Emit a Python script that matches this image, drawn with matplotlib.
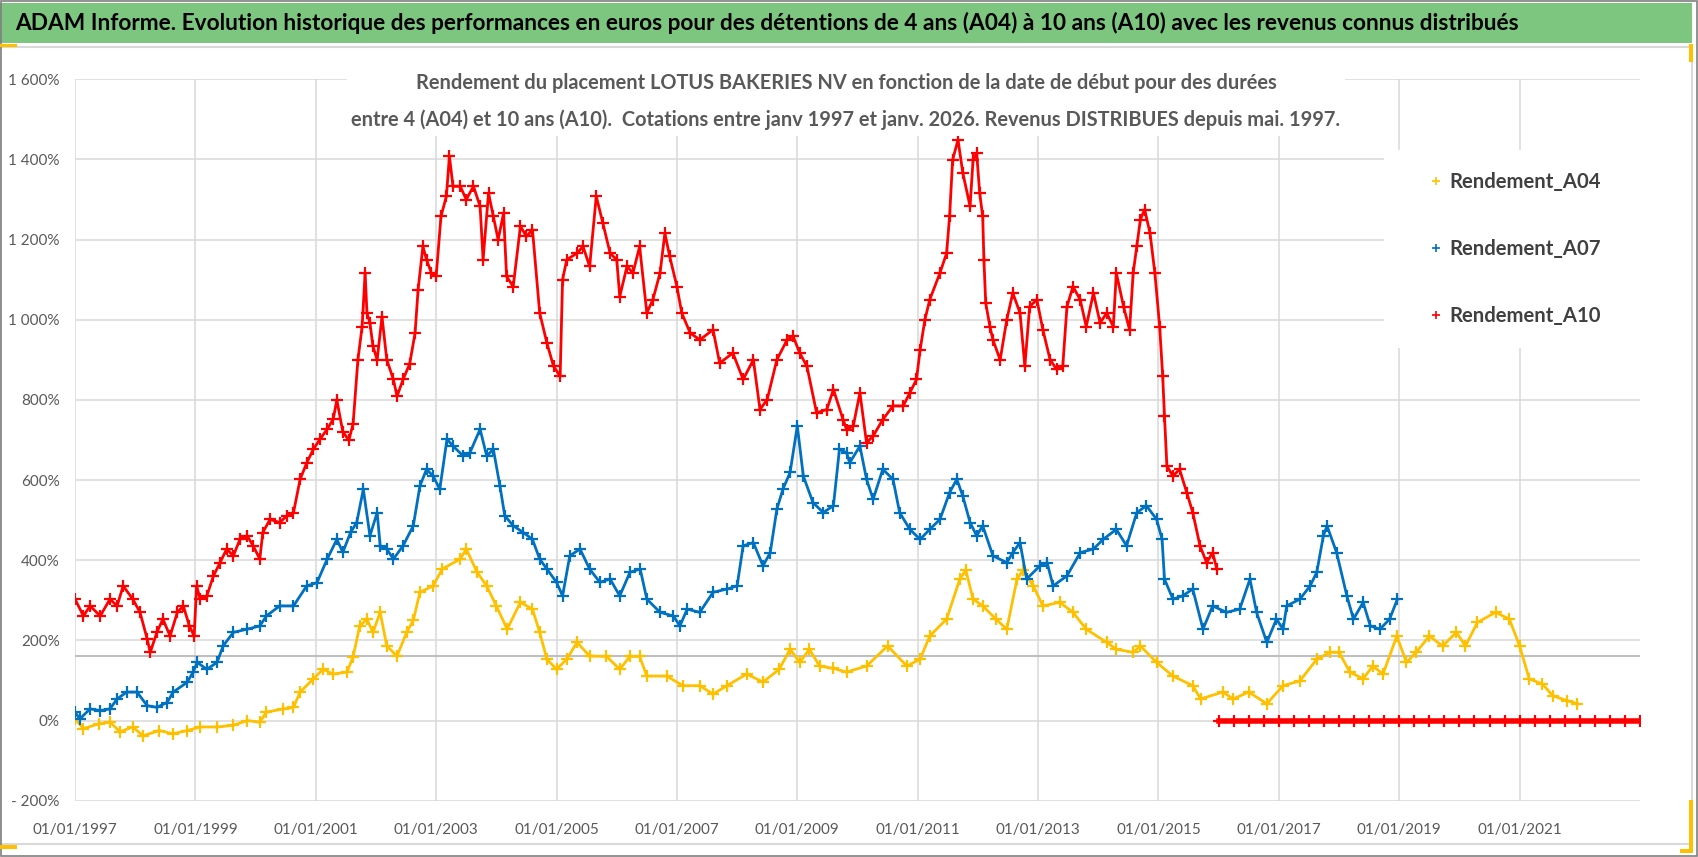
import matplotlib
matplotlib.use("Agg")
import matplotlib.pyplot as plt
from matplotlib.patches import Rectangle
from matplotlib.lines import Line2D

# Dates en années décimales, rendements en %
A04_t = [1997.00, 1997.14, 1997.40, 1997.58, 1997.75, 1997.96, 1998.13, 1998.40, 1998.63, 1998.86,
         1999.08, 1999.36, 1999.63, 1999.86, 2000.07, 2000.18, 2000.46, 2000.63, 2000.74, 2000.96,
         2001.12, 2001.29, 2001.52, 2001.62, 2001.73, 2001.85, 2001.95, 2002.07, 2002.18, 2002.35,
         2002.51, 2002.62, 2002.73, 2002.95, 2003.10, 2003.40, 2003.50, 2003.68, 2003.84, 2004.00,
         2004.18, 2004.40, 2004.60, 2004.72, 2004.84, 2005.00, 2005.17, 2005.34, 2005.55, 2005.83,
         2006.05, 2006.22, 2006.38, 2006.50, 2006.83, 2007.10, 2007.38, 2007.60, 2007.83, 2008.16,
         2008.43, 2008.70, 2008.88, 2009.04, 2009.20, 2009.37, 2009.60, 2009.82, 2010.15, 2010.50,
         2010.82, 2011.04, 2011.20, 2011.48, 2011.70, 2011.80, 2011.92, 2012.08, 2012.30, 2012.48,
         2012.65, 2012.75, 2012.92, 2013.08, 2013.36, 2013.58, 2013.80, 2014.14, 2014.30, 2014.58,
         2014.70, 2014.97, 2015.24, 2015.57, 2015.70, 2016.07, 2016.24, 2016.50, 2016.80, 2017.07,
         2017.35, 2017.63, 2017.85, 2018.00, 2018.18, 2018.40, 2018.56, 2018.73, 2018.96, 2019.12,
         2019.28, 2019.50, 2019.72, 2019.95, 2020.10, 2020.30, 2020.60, 2020.83, 2021.00, 2021.16,
         2021.38, 2021.55, 2021.78, 2021.96]
A04_v = [4, -20, -8, -4, -28, -16, -38, -25, -33, -25,
         -16, -16, -12, 0, -4, 21, 29, 33, 71, 104,
         128, 116, 121, 159, 236, 253, 220, 270, 186, 161,
         220, 250, 320, 336, 378, 403, 428, 370, 336, 286,
         228, 295, 278, 220, 153, 128, 153, 195, 161, 160,
         128, 160, 160, 111, 111, 87, 87, 66, 87, 116,
         96, 128, 178, 145, 178, 136, 130, 121, 136, 186,
         136, 153, 211, 253, 353, 375, 303, 286, 253, 228,
         353, 375, 336, 286, 295, 270, 228, 195, 178, 170,
         186, 145, 111, 87, 54, 71, 54, 71, 42, 87,
         99, 153, 170, 170, 121, 104, 136, 116, 211, 145,
         170, 211, 186, 220, 186, 245, 270, 253, 186, 104,
         91, 62, 50, 42]

A07_t = [1997.00, 1997.08, 1997.25, 1997.42, 1997.58, 1997.70, 1997.86, 1998.03, 1998.20, 1998.36,
         1998.53, 1998.63, 1998.86, 1998.96, 1999.03, 1999.19, 1999.36, 1999.46, 1999.63, 1999.86,
         2000.07, 2000.18, 2000.40, 2000.63, 2000.85, 2001.02, 2001.19, 2001.35, 2001.45, 2001.58,
         2001.68, 2001.79, 2001.90, 2002.02, 2002.07, 2002.18, 2002.29, 2002.45, 2002.62, 2002.73,
         2002.84, 2002.95, 2003.06, 2003.18, 2003.28, 2003.45, 2003.56, 2003.73, 2003.84, 2003.95,
         2004.06, 2004.14, 2004.28, 2004.45, 2004.60, 2004.72, 2004.84, 2005.00, 2005.10, 2005.22,
         2005.39, 2005.55, 2005.72, 2005.89, 2006.05, 2006.22, 2006.39, 2006.50, 2006.72, 2006.94,
         2007.05, 2007.17, 2007.38, 2007.60, 2007.83, 2008.00, 2008.10, 2008.27, 2008.43, 2008.55,
         2008.66, 2008.76, 2008.88, 2009.00, 2009.10, 2009.26, 2009.43, 2009.60, 2009.70, 2009.82,
         2009.87, 2010.04, 2010.15, 2010.26, 2010.42, 2010.59, 2010.70, 2010.87, 2011.04, 2011.20,
         2011.37, 2011.53, 2011.65, 2011.75, 2011.87, 2011.98, 2012.08, 2012.25, 2012.48, 2012.58,
         2012.70, 2012.81, 2013.03, 2013.15, 2013.25, 2013.48, 2013.70, 2013.92, 2014.08, 2014.30,
         2014.47, 2014.64, 2014.80, 2014.97, 2015.06, 2015.10, 2015.24, 2015.40, 2015.57, 2015.74,
         2015.90, 2016.13, 2016.35, 2016.52, 2016.63, 2016.80, 2016.96, 2017.07, 2017.13, 2017.35,
         2017.52, 2017.63, 2017.74, 2017.80, 2017.96, 2018.13, 2018.24, 2018.40, 2018.52, 2018.68,
         2018.84, 2018.97]
A07_v = [21, 4, 29, 25, 29, 54, 71, 71, 37, 33,
         45, 71, 95, 120, 145, 128, 145, 186, 220, 228,
         236, 261, 286, 286, 336, 344, 403, 452, 420, 470,
         494, 577, 461, 519, 436, 428, 403, 436, 486, 585,
         627, 610, 577, 702, 685, 660, 668, 727, 660, 677,
         585, 511, 486, 469, 452, 403, 378, 345, 311, 411,
         428, 378, 345, 353, 311, 370, 378, 303, 270, 261,
         236, 278, 270, 320, 328, 336, 436, 444, 386, 419,
         527, 577, 619, 735, 610, 544, 519, 536, 677, 668,
         643, 685, 602, 552, 627, 602, 519, 477, 452, 477,
         502, 569, 602, 560, 494, 461, 486, 411, 394, 419,
         444, 353, 386, 394, 336, 361, 419, 428, 452, 477,
         436, 519, 536, 502, 452, 353, 303, 311, 328, 228,
         286, 270, 278, 353, 270, 195, 253, 228, 286, 303,
         336, 370, 461, 486, 419, 311, 253, 295, 236, 228,
         253, 303]

A10_t = [1997.00, 1997.14, 1997.25, 1997.42, 1997.58, 1997.70, 1997.80, 1997.96, 1998.08, 1998.20,
         1998.25, 1998.36, 1998.46, 1998.58, 1998.70, 1998.80, 1998.90, 1998.98, 1999.02, 1999.08,
         1999.19, 1999.30, 1999.41, 1999.52, 1999.63, 1999.74, 1999.86, 1999.96, 2000.07, 2000.12,
         2000.24, 2000.40, 2000.52, 2000.63, 2000.74, 2000.85, 2000.96, 2001.07, 2001.19, 2001.29,
         2001.35, 2001.45, 2001.55, 2001.62, 2001.70, 2001.77, 2001.82, 2001.85, 2001.90, 2001.95,
         2002.02, 2002.10, 2002.18, 2002.29, 2002.35, 2002.45, 2002.56, 2002.65, 2002.70, 2002.78,
         2002.84, 2002.92, 2003.00, 2003.08, 2003.17, 2003.22, 2003.28, 2003.40, 2003.50, 2003.62,
         2003.73, 2003.78, 2003.87, 2003.95, 2004.03, 2004.12, 2004.17, 2004.28, 2004.40, 2004.50,
         2004.60, 2004.72, 2004.84, 2004.95, 2005.06, 2005.10, 2005.17, 2005.34, 2005.44, 2005.55,
         2005.66, 2005.77, 2005.89, 2006.00, 2006.05, 2006.17, 2006.27, 2006.38, 2006.50, 2006.60,
         2006.72, 2006.80, 2006.88, 2007.00, 2007.08, 2007.22, 2007.38, 2007.60, 2007.71, 2007.93,
         2008.10, 2008.27, 2008.38, 2008.50, 2008.66, 2008.83, 2008.93, 2009.04, 2009.16, 2009.32,
         2009.49, 2009.60, 2009.76, 2009.82, 2009.93, 2010.04, 2010.15, 2010.26, 2010.42, 2010.59,
         2010.76, 2010.87, 2010.98, 2011.04, 2011.12, 2011.20, 2011.37, 2011.48, 2011.53, 2011.58,
         2011.67, 2011.75, 2011.87, 2011.92, 2011.98, 2012.03, 2012.08, 2012.10, 2012.13, 2012.20,
         2012.25, 2012.37, 2012.48, 2012.58, 2012.70, 2012.78, 2012.86, 2012.98, 2013.08, 2013.20,
         2013.31, 2013.41, 2013.48, 2013.58, 2013.70, 2013.80, 2013.92, 2014.03, 2014.14, 2014.25,
         2014.30, 2014.42, 2014.52, 2014.58, 2014.64, 2014.70, 2014.77, 2014.86, 2014.94, 2015.02,
         2015.07, 2015.10, 2015.14, 2015.24, 2015.35, 2015.47, 2015.57, 2015.69, 2015.80, 2015.90,
         2015.97]
A10_v = [303, 261, 286, 261, 303, 286, 336, 303, 270, 203,
         170, 220, 253, 211, 270, 286, 236, 211, 336, 303,
         311, 361, 394, 428, 411, 452, 461, 436, 403, 469,
         502, 494, 511, 519, 602, 643, 677, 702, 727, 752,
         800, 720, 700, 740, 900, 983, 1117, 1017, 992, 934,
         900, 1008, 900, 851, 809, 851, 890, 967, 1075, 1183,
         1150, 1117, 1108, 1258, 1308, 1408, 1333, 1333, 1300, 1333,
         1283, 1150, 1316, 1258, 1200, 1266, 1108, 1083, 1233, 1208,
         1225, 1017, 942, 884, 859, 1100, 1150, 1166, 1183, 1133,
         1308, 1241, 1166, 1150, 1058, 1133, 1117, 1183, 1017, 1050,
         1117, 1216, 1158, 1083, 1017, 967, 950, 975, 892, 917,
         851, 900, 776, 801, 900, 950, 959, 917, 884, 768,
         776, 826, 751, 726, 735, 818, 693, 710, 751, 785,
         785, 818, 851, 925, 1000, 1050, 1117, 1166, 1258, 1399,
         1449, 1366, 1283, 1399, 1416, 1316, 1258, 1150, 1042, 983,
         950, 900, 1000, 1067, 1017, 884, 1033, 1050, 975, 900,
         876, 884, 1033, 1083, 1050, 983, 1067, 992, 1017, 983,
         1117, 1033, 975, 1117, 1183, 1250, 1275, 1216, 1117, 983,
         860, 760, 635, 610, 627, 569, 519, 436, 394, 419,
         378]
# A10 sans valeur après 2016 : reporté à 0 %
A10_zero_t = [2016.00, 2016.25, 2016.50, 2016.75, 2017.00, 2017.25, 2017.50, 2017.75, 2018.00,
              2018.25, 2018.50, 2018.75, 2019.00, 2019.25, 2019.50, 2019.75, 2020.00, 2020.25,
              2020.50, 2020.75, 2021.00, 2021.25, 2021.50, 2021.75, 2022.00, 2022.25, 2022.50,
              2022.75, 2023.00]
A10_zero_v = [0] * len(A10_zero_t)

REF_LEVEL = 160
X_TICKS = [1997, 1999, 2001, 2003, 2005, 2007, 2009, 2011, 2013, 2015, 2017, 2019, 2021]
Y_TICKS = [-200, 0, 200, 400, 600, 800, 1000, 1200, 1400, 1600]
Y_LABELS = ['- 200%', '0%', '200%', '400%', '600%', '800%', '1 000%', '1 200%', '1 400%', '1 600%']
SERIES_NAMES = ['Rendement_A04', 'Rendement_A07', 'Rendement_A10']
COLORS = ['#FFC000', '#0070C0', '#FF0000']

TITLE = ("ADAM Informe. Evolution historique des performances en euros pour des détentions "
         "de 4 ans (A04) à 10 ans (A10) avec les revenus connus distribués")
SUB1 = "Rendement du placement LOTUS BAKERIES NV en fonction de la date de début pour des durées"
SUB2 = ("entre 4 (A04) et 10 ans (A10).  Cotations entre janv 1997 et janv. 2026. "
        "Revenus DISTRIBUES depuis mai. 1997.")

W, H = 1698, 857
plt.rcParams['font.family'] = ['Lato', 'DejaVu Sans']


def fx(x):
    return x / W


def fy(y):
    return 1 - y / H


def box(x0, y0, x1, y1, **kw):
    fig.patches.append(Rectangle((fx(x0), fy(y1)), fx(x1 - x0), (y1 - y0) / H,
                                 transform=fig.transFigure, **kw))


fig = plt.figure(figsize=(W / 100, H / 100), dpi=100)
ax = fig.add_axes([fx(75), fy(800.7), fx(1640 - 75), (800.7 - 79.3) / H])

ax.axhline(REF_LEVEL, color='#BFBFBF', lw=1.5, zorder=2)

mk = dict(marker='+', ms=8, mew=1.6, zorder=3)
ax.plot(A04_t, A04_v, color=COLORS[0], lw=2.0, **mk)
ax.plot(A07_t, A07_v, color=COLORS[1], lw=2.0, **mk)
ax.plot(A10_t, A10_v, color=COLORS[2], lw=2.0, **mk)
ax.plot(A10_zero_t, A10_zero_v, color=COLORS[2], lw=4, **mk)

ax.set_xlim(1997, 2023)
ax.set_ylim(-200, 1600)
ax.set_xticks(X_TICKS)
ax.set_xticklabels([f"01/01/{y}" for y in X_TICKS])
ax.set_yticks(Y_TICKS)
ax.set_yticklabels(Y_LABELS)
ax.grid(True, color='#D9D9D9', lw=1.1, zorder=0)
ax.set_axisbelow(True)
for s in ax.spines.values():
    s.set_visible(False)
ax.tick_params(axis='both', length=0, labelsize=11, labelcolor='#595959')
ax.tick_params(axis='x', pad=16)
ax.tick_params(axis='y', pad=11)

# bandeau vert + cadre
box(0, 3, 1692, 43, facecolor='#7DC67F', edgecolor='none', zorder=1)
box(0, 47, 1692, 844, facecolor='none', edgecolor='#D9D9D9', lw=1.5, zorder=1)
box(0.5, 0.5, 1697, 856, facecolor='none', edgecolor='#7F7F7F', lw=1.2, zorder=1)
box(0, 44, 17, 47, facecolor='#FFC000', edgecolor='none', zorder=2)
box(0, 845, 17, 849, facecolor='#FFC000', edgecolor='none', zorder=2)
box(1689, 44, 1693, 62, facecolor='#FFC000', edgecolor='none', zorder=2)
box(1689, 800, 1693, 853, facecolor='#FFC000', edgecolor='none', zorder=2)
box(1680, 849, 1693, 853, facecolor='#FFC000', edgecolor='none', zorder=2)

# zones blanches du sous-titre et de la légende
box(347, 52, 1345, 136, facecolor='white', edgecolor='none', zorder=1)
box(1384, 150, 1640, 348, facecolor='white', edgecolor='none', zorder=1)

fig.text(fx(15), fy(23), TITLE, ha='left', va='center', fontsize=16.3,
         fontweight='bold', color='black')
fig.text(fx(846), fy(83), SUB1, ha='center', va='center', fontsize=14.4,
         fontweight='bold', color='#595959')
fig.text(fx(846), fy(120), SUB2, ha='center', va='center', fontsize=14.4,
         fontweight='bold', color='#595959')

handles = [Line2D([], [], color=c, ls='none', marker='+', ms=6, mew=1.2) for c in COLORS]
fig.legend(handles, SERIES_NAMES, loc='center left', bbox_to_anchor=(fx(1428), fy(249)),
           frameon=False, handlelength=0.8, handletextpad=0.25,
           labelspacing=2.3, borderpad=0, borderaxespad=0, labelcolor='#404040',
           prop={'weight': 'bold', 'size': 14.6})

fig.savefig('out.png', dpi=100)
